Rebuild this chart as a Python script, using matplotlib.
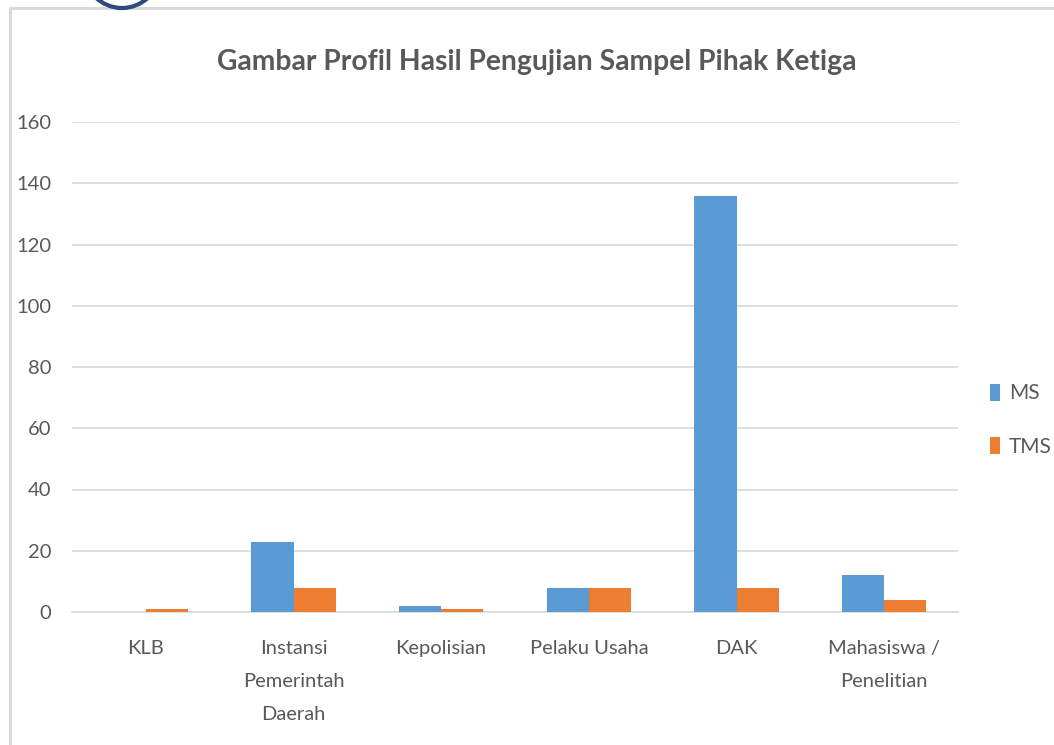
import matplotlib
matplotlib.use("Agg")
import matplotlib.pyplot as plt
import numpy as np
from matplotlib.patches import Rectangle, Arc

categories = ["KLB", "Instansi\nPemerintah\nDaerah", "Kepolisian", "Pelaku Usaha", "DAK", "Mahasiswa /\nPenelitian"]
ms_values = [0, 23, 2, 8, 136, 12]
tms_values = [1, 8, 1, 8, 8, 4]
yticks = [0, 20, 40, 60, 80, 100, 120, 140, 160]
title = "Gambar Profil Hasil Pengujian Sampel Pihak Ketiga"

plt.rcParams['font.family'] = ['Lato', 'DejaVu Sans']
W, H = 1054, 745
fig = plt.figure(figsize=(W / 100, H / 100), dpi=100)
fig.patch.set_facecolor("white")

# frame and logo fragment
fig.patches.append(Rectangle((10 / W, -0.01), 1.1, (H - 8) / H + 0.01, transform=fig.transFigure,
                             fill=False, edgecolor="#d9d9d9", linewidth=2.2))
fig.patches.append(Arc((122 / W, (H + 30) / H), 76 / W, 76 / H, theta1=180, theta2=360,
                       transform=fig.transFigure, edgecolor="#2e4a7d", linewidth=3))

ax = fig.add_axes([72 / W, (H - 612) / H, (958 - 72) / W, (612 - 122) / H])
x = np.arange(len(categories))
w = 0.285
ax.bar(x - w / 2, ms_values, w, color="#5b9bd5", label="MS", zorder=3)
ax.bar(x + w / 2, tms_values, w, color="#ed7d31", label="TMS", zorder=3)

ax.set_xlim(-0.5, len(categories) - 0.5)
ax.set_ylim(0, 160)
ax.set_yticks(yticks)
ax.set_xticks(x)
ax.set_xticklabels(categories)
ax.tick_params(axis="both", length=0, labelsize=14.5, labelcolor="#595959")
ax.tick_params(axis="y", pad=15)
ax.tick_params(axis="x", pad=20)
for lbl in ax.get_xticklabels():
    lbl.set_linespacing(2.15)
ax.grid(axis="y", color="#d9d9d9", linewidth=1.2, zorder=0)
for s in ["top", "right", "left"]:
    ax.spines[s].set_visible(False)
ax.spines["bottom"].set_color("#d9d9d9")
ax.spines["bottom"].set_linewidth(1.2)

fig.text(537 / W, (H - 62) / H, title, ha="center", va="center", fontsize=20.3,
         fontweight="bold", color="#595959")

leg = ax.legend(loc="center left", bbox_to_anchor=(990 / W, (H - 420) / H), bbox_transform=fig.transFigure,
                frameon=False, fontsize=15, handlelength=0.5, handleheight=0.9, handletextpad=0.4,
                labelspacing=1.6, borderpad=0, borderaxespad=0)
for t in leg.get_texts():
    t.set_color("#595959")

fig.savefig("out.png", dpi=100)
